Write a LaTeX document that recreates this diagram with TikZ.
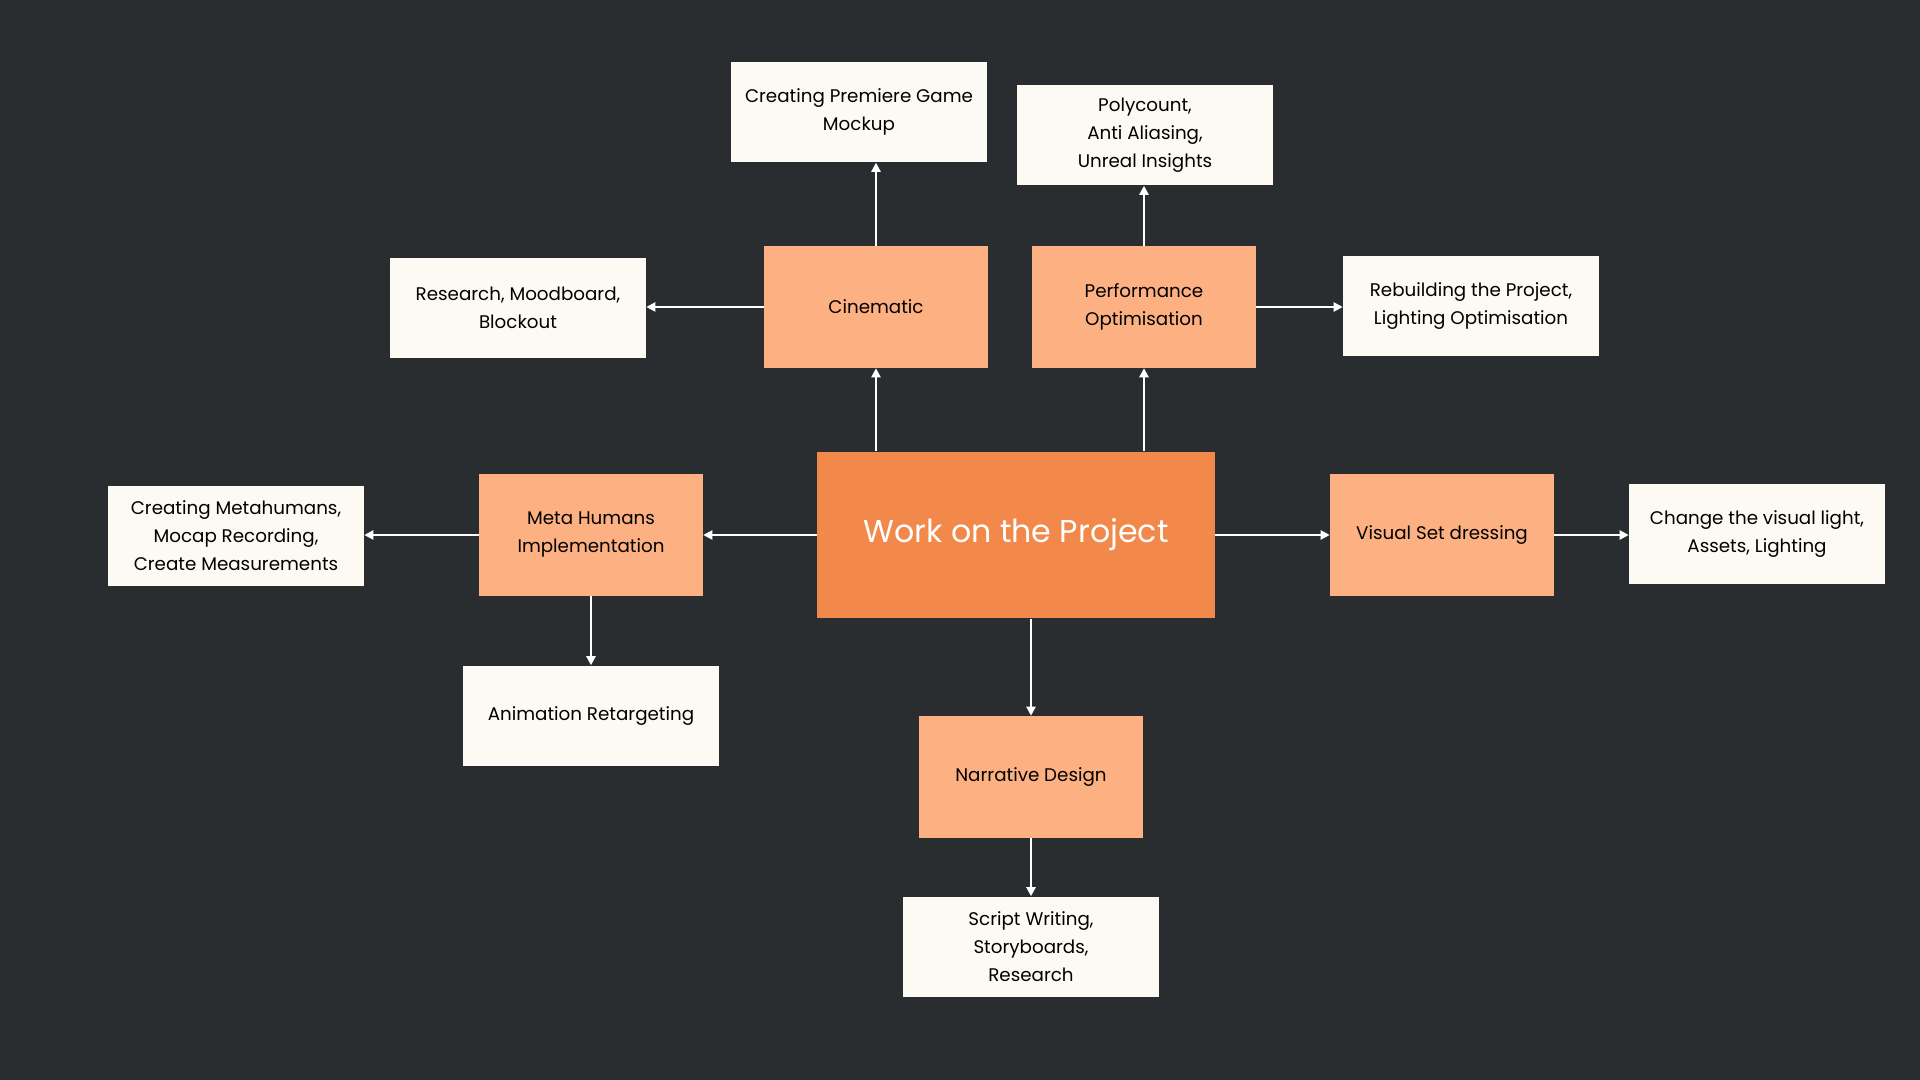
\documentclass[tikz,border=0pt]{standalone}
\usepackage{fontspec}
\setmainfont{Poppins}
\usetikzlibrary{arrows.meta, positioning}

\definecolor{board}{HTML}{2A2D30}
\definecolor{hub}{HTML}{F2894A}
\definecolor{topic}{HTML}{FDB082}
\definecolor{note}{HTML}{FCFAF3}

\begin{document}
\begin{tikzpicture}[
    x=0.01cm, y=-0.01cm,
    hub/.style={fill=hub, minimum width=3.97cm, minimum height=1.66cm,
                text=white, font=\fontsize{9.0}{12}\selectfont},
    topic/.style={fill=topic, minimum width=2.23cm, minimum height=1.21cm,
                  align=center, font=\fontsize{5.2}{7.97}\selectfont},
    note/.style={fill=note, minimum width=2.55cm, minimum height=1.0cm,
                 align=center, font=\fontsize{5.2}{7.97}\selectfont},
    link/.style={draw=white, line width=0.6pt,
                 -{Triangle[length=2.6pt, width=2.6pt]}},
  ]
  \fill[board] (0,0) rectangle (1920,1080);
  \useasboundingbox (0,0) rectangle (1920,1080);

  \node[hub] (core) at (1016,535) {Work on the Project};

  \foreach \n/\x/\y/\t in {cine/876/307/Cinematic,
                           perf/1144/307/{Performance\\Optimisation},
                           meta/591/535/{Meta Humans\\Implementation},
                           visual/1442/535/Visual Set dressing,
                           narr/1031/777/Narrative Design} {
    \node[topic] (\n) at (\x,\y) {\t};
  }

  \foreach \n/\x/\y/\t in {mockup/859/112/{Creating Premiere Game\\Mockup},
                           poly/1145/135/{Polycount,\\Anti Aliasing,\\Unreal Insights},
                           research/518/308/{Research, Moodboard,\\Blockout},
                           rebuild/1471/306/{Rebuilding the Project,\\Lighting Optimisation},
                           mocap/236/536/{Creating Metahumans,\\Mocap Recording,\\Create Measurements},
                           retarget/591/716/Animation Retargeting,
                           light/1757/534/{Change the visual light,\\Assets, Lighting},
                           script/1031/947/{Script Writing,\\Storyboards,\\Research}} {
    \node[note] (\n) at (\x,\y) {\t};
  }

  % from the hub
  \draw[link] (core.north -| cine) -- (cine.south);
  \draw[link] (core.north -| perf) -- (perf.south);
  \draw[link] (core.west) -- (meta.east);
  \draw[link] (core.east) -- (visual.west);
  \draw[link] (core.south -| narr) -- (narr.north);

  % to the notes
  \draw[link] (cine.north) -- (cine.north |- mockup.south);
  \draw[link] (cine.west) -- (cine.west -| research.east);
  \draw[link] (perf.north) -- (perf.north |- poly.south);
  \draw[link] (perf.east) -- (perf.east -| rebuild.west);
  \draw[link] (meta.west) -- (meta.west -| mocap.east);
  \draw[link] (meta.south) -- (retarget.north);
  \draw[link] (visual.east) -- (visual.east -| light.west);
  \draw[link] (narr.south) -- (script.north);
\end{tikzpicture}
\end{document}
